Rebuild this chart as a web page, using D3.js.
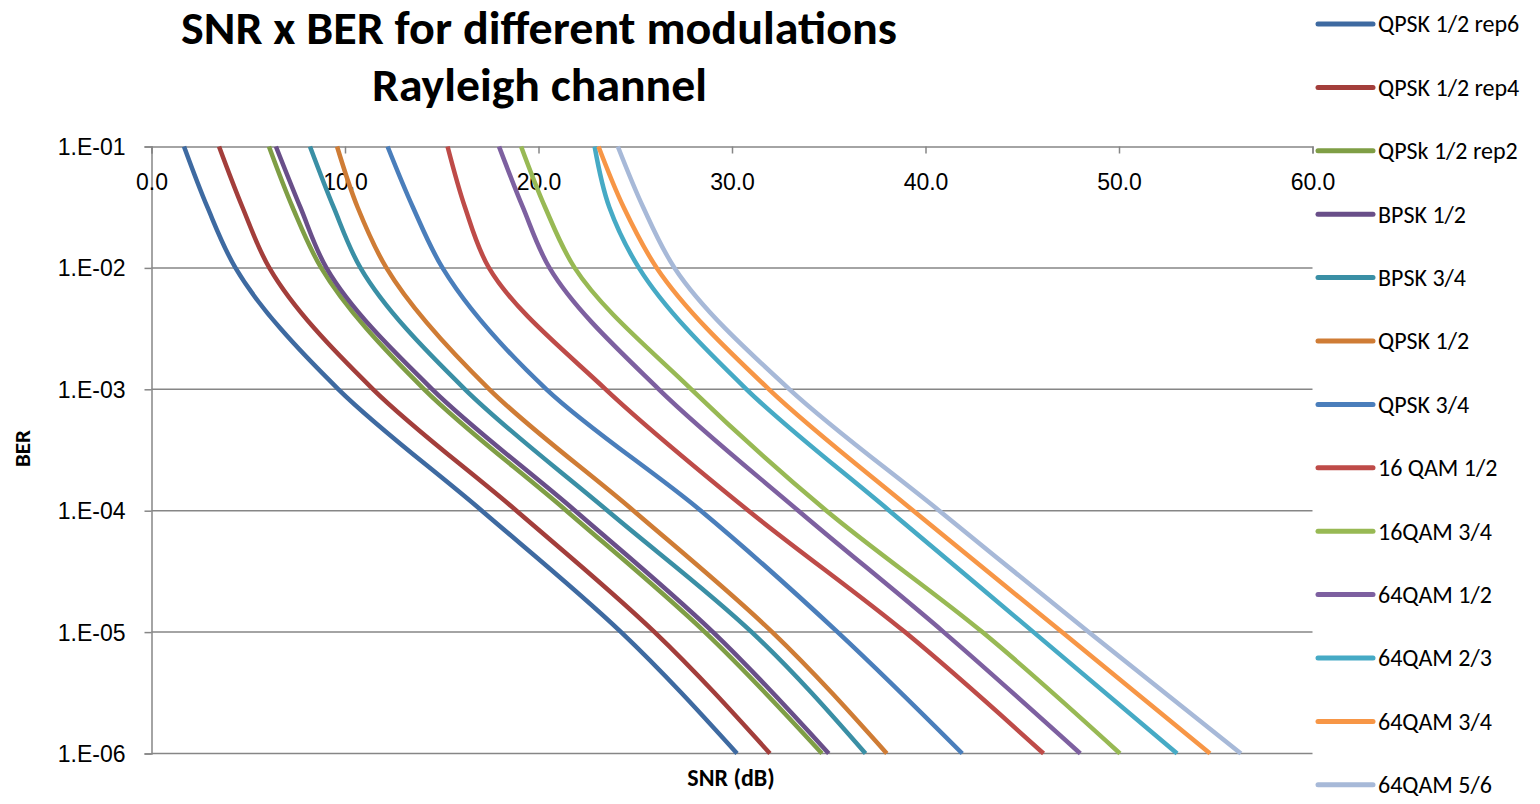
<!DOCTYPE html>
<html>
<head>
<meta charset="utf-8">
<script src="https://cdn.jsdelivr.net/npm/d3@7"></script>
<style>
  body { margin: 0; background: #fff; }
  svg { display: block; font-family: Calibri, Carlito, "Open Sans", sans-serif; }
</style>
</head>
<body>
<div id="chartDiv"></div>
<script>
var berLevels = [1e-1, 0.0316, 1e-2, 1e-3, 1e-4, 1e-5, 1e-6];

var seriesNames = ["QPSK 1/2 rep6", "QPSK 1/2 rep4", "QPSk 1/2 rep2", "BPSK 1/2", "BPSK 3/4",
  "QPSK 1/2", "QPSK 3/4", "16 QAM 1/2", "16QAM 3/4", "64QAM 1/2", "64QAM 2/3", "64QAM 3/4", "64QAM 5/6"];

var seriesColors = ["#3e6aa1", "#a33e3b", "#7f9e45", "#694f89", "#3a8fa5", "#cf7c35",
  "#4a7ebb", "#be4b48", "#98b954", "#7d60a0", "#46aac5", "#f79646", "#a7b9d8"];

// SNR (dB) per series, one value per BER level
var snrRep6   = [1.68, 2.89, 4.34, 9.66, 17.07, 24.27, 30.26];
var snrRep4   = [3.49, 4.70, 6.09, 11.45, 18.86, 26.00, 31.96];
var snrRep2   = [6.07, 7.29, 8.77, 14.09, 21.44, 28.60, 34.65];
var snrBpsk12 = [6.43, 7.69, 9.04, 14.51, 21.89, 29.02, 35.00];
var snrBpsk34 = [8.19, 9.41, 10.80, 16.20, 23.57, 31.02, 36.90];
var snrQpsk12 = [9.59, 10.65, 12.14, 17.46, 24.91, 32.08, 38.00];
var snrQpsk34 = [12.2, 13.51, 15.04, 20.41, 28.39, 35.46, 41.90];
var snr16q12  = [15.3, 16.20, 17.44, 23.47, 30.85, 38.94, 46.10];
var snr16q34  = [19.1, 20.34, 21.87, 27.90, 34.88, 42.94, 50.05];
var snr64q12  = [17.96, 19.19, 20.57, 26.22, 33.43, 40.94, 48.00];
var snr64q23  = [22.9, 23.66, 25.19, 30.75, 38.13, 45.58, 53.00];
var snr64q34  = [23.1, 24.40, 26.11, 31.91, 39.37, 47.05, 54.70];
var snr64q56  = [24.1, 25.41, 27.03, 32.97, 40.71, 48.43, 56.30];

var seriesValues = [snrRep6, snrRep4, snrRep2, snrBpsk12, snrBpsk34, snrQpsk12, snrQpsk34,
  snr16q12, snr16q34, snr64q12, snr64q23, snr64q34, snr64q56];

var xTicks = [0, 10, 20, 30, 40, 50, 60];
var yTicks = [1e-1, 1e-2, 1e-3, 1e-4, 1e-5, 1e-6];

var svg = d3.select("#chartDiv").append("svg")
    .attr("width", 1540)
    .attr("height", 804);

var margin = {top: 146.5, left: 151.5, right: 1312.5, bottom: 753.5};
var axisColor = "#868686";

var x_scale = d3.scaleLinear().domain([0, 60]).range([margin.left, margin.right]);
var y_scale = d3.scaleLog().domain([1e-1, 1e-6]).range([margin.top, margin.bottom]);

// title
var title = svg.append("g").attr("font-weight", "bold").attr("fill", "#000").attr("text-anchor", "middle");
title.append("text").attr("x", 539).attr("y", 44).attr("font-size", 47)
    .attr("textLength", 716).attr("lengthAdjust", "spacingAndGlyphs")
    .text("SNR x BER for different modulations");
title.append("text").attr("x", 539.5).attr("y", 101).attr("font-size", 47)
    .attr("textLength", 335).attr("lengthAdjust", "spacingAndGlyphs")
    .text("Rayleigh channel");

// horizontal gridlines
svg.append("g").selectAll("line").data(yTicks.slice(1)).enter().append("line")
    .attr("x1", margin.left).attr("x2", margin.right)
    .attr("y1", function(d){ return y_scale(d); })
    .attr("y2", function(d){ return y_scale(d); })
    .attr("stroke", axisColor).attr("stroke-width", 1.5);

// y axis
var yAxis = d3.axisLeft(y_scale).tickValues(yTicks).tickSize(7).tickPadding(19)
    .tickFormat(function(d){ return "1.E-0" + Math.round(-Math.log10(d)); });
var yGroup = svg.append("g").attr("transform", "translate(" + margin.left + ",0)").call(yAxis);
yGroup.select(".domain").attr("stroke", axisColor).attr("stroke-width", 1.5);
yGroup.selectAll(".tick line").attr("stroke", axisColor).attr("stroke-width", 1.5);
yGroup.selectAll(".tick text").attr("font-family", null).attr("font-size", 23).attr("fill", "#000").attr("dy", "0.35em");

// x axis at the top, ticks pointing down, labels below
var xAxis = d3.axisBottom(x_scale).tickValues(xTicks).tickSizeInner(7).tickSizeOuter(7).tickPadding(20)
    .tickFormat(d3.format(".1f"));
var xGroup = svg.append("g").attr("transform", "translate(0," + margin.top + ")").call(xAxis);
xGroup.select(".domain").attr("stroke", axisColor).attr("stroke-width", 1.5);
xGroup.selectAll(".tick line").attr("stroke", axisColor).attr("stroke-width", 1.5);
xGroup.selectAll(".tick text").attr("font-family", null).attr("font-size", 23).attr("fill", "#000");

// axis titles
svg.append("text").attr("x", 731).attr("y", 786).attr("text-anchor", "middle")
    .attr("font-weight", "bold").attr("font-size", 24).text("SNR (dB)");
svg.append("text").attr("transform", "translate(30,448.5) rotate(-90)").attr("text-anchor", "middle")
    .attr("font-weight", "bold").attr("font-size", 23).text("BER");

// curves
var line = d3.line()
    .x(function(d){ return x_scale(d.snr); })
    .y(function(d){ return y_scale(d.ber); })
    .curve(d3.curveMonotoneY);

var chart_svg = svg.append("g").attr("class", "svg_chart");
chart_svg.selectAll(".series").data(seriesValues).enter().append("path")
    .attr("class", "series")
    .attr("fill", "none")
    .attr("stroke", function(d, i){ return seriesColors[i]; })
    .attr("stroke-width", 4.5)
    .attr("stroke-linejoin", "round")
    .attr("d", function(vals){
      return line(vals.map(function(v, j){ return {snr: v, ber: berLevels[j]}; }));
    });

// legend
var legend = svg.append("g").selectAll(".legend").data(seriesNames).enter().append("g")
    .attr("class", "legend")
    .attr("transform", function(d, i){ return "translate(1318," + (24 + i * 63.4) + ")"; });
legend.append("line").attr("x1", 0).attr("x2", 55)
    .attr("stroke", function(d, i){ return seriesColors[i]; })
    .attr("stroke-width", 5).attr("stroke-linecap", "round");
legend.append("text").attr("x", 60).attr("dy", "0.35em").attr("font-size", 24)
    .text(function(d){ return d; });
</script>
</body>
</html>
